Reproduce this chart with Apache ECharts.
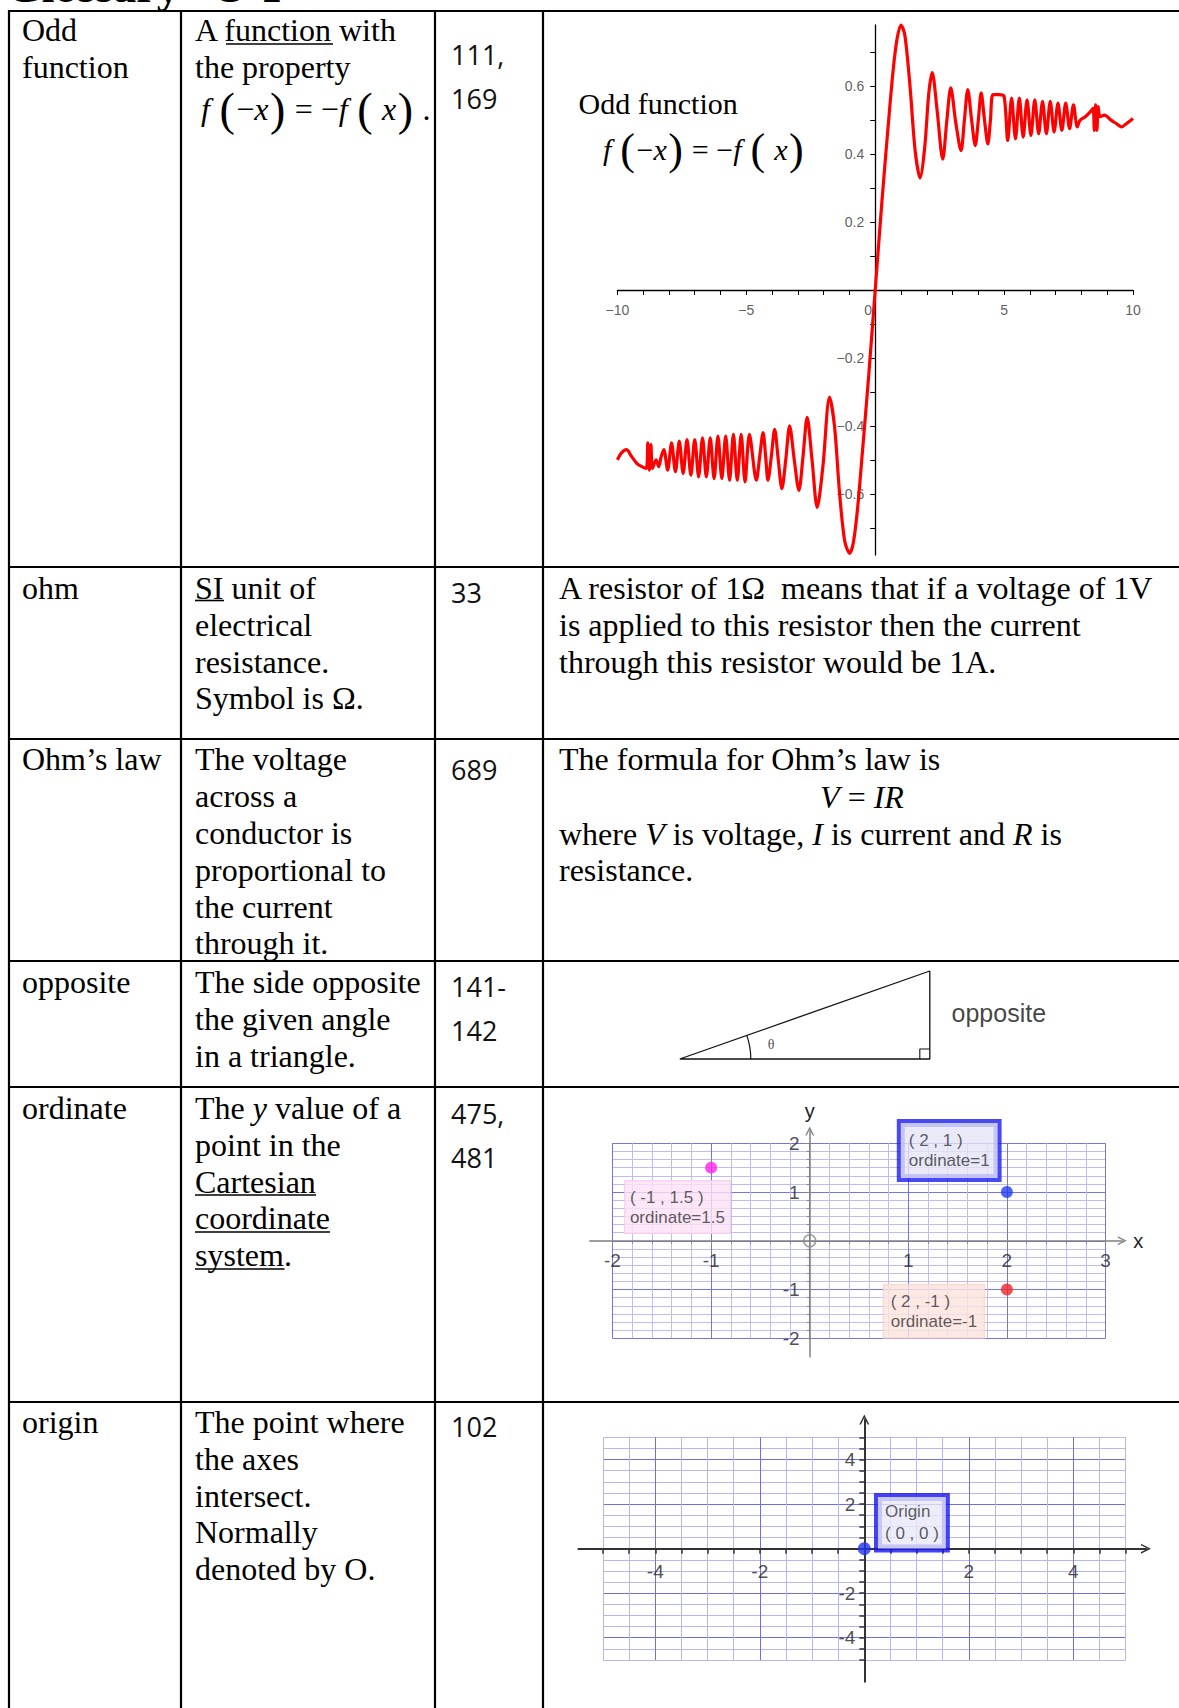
<!DOCTYPE html>
<html>
<head>
<meta charset="utf-8">
<script src="https://cdn.jsdelivr.net/npm/echarts@6/dist/echarts.min.js"></script>
<style>
  html, body { margin: 0; padding: 0; background: #fff; }
  #chart { width: 1179px; height: 1708px; }
</style>
</head>
<body>
<div id="chart"></div>
<script>
// ---- data ----

// odd function curve (x, f(x))
const oddCurve = [
  [-10, -0.5], [-9.85, -0.48], [-9.65, -0.47], [-9.45, -0.49], [-9.25, -0.51], [-9.05, -0.52],
  [-8.88, -0.525], [-8.82, -0.45], [-8.76, -0.53], [-8.7, -0.455], [-8.64, -0.525], [-8.5, -0.5],
  [-8.4, -0.52], [-8.3, -0.49], [-8.2, -0.47],
  [-8.05, -0.53], [-7.9, -0.45], [-7.75, -0.535], [-7.6, -0.445], [-7.45, -0.54], [-7.3, -0.44],
  [-7.15, -0.545], [-7.0, -0.44], [-6.85, -0.55], [-6.7, -0.435], [-6.55, -0.55], [-6.4, -0.435],
  [-6.25, -0.555], [-6.1, -0.43], [-5.95, -0.555], [-5.8, -0.43], [-5.65, -0.56], [-5.5, -0.425],
  [-5.35, -0.56], [-5.2, -0.425], [-5.05, -0.565], [-4.88, -0.425],
  [-4.61, -0.56], [-4.48, -0.49], [-4.35, -0.42], [-4.25, -0.49], [-4.16, -0.56], [-4.03, -0.49],
  [-3.9, -0.41], [-3.76, -0.5], [-3.62, -0.585], [-3.47, -0.5], [-3.32, -0.4], [-3.14, -0.5],
  [-2.96, -0.59], [-2.8, -0.49], [-2.64, -0.375], [-2.45, -0.5], [-2.25, -0.64], [-2.03, -0.52],
  [-1.77, -0.315], [-1.58, -0.4], [-1.38, -0.6], [-1.18, -0.74], [-0.99, -0.775], [-0.84, -0.74],
  [-0.68, -0.64], [-0.5, -0.48], [-0.25, -0.25],
  [0, 0],
  [0.25, 0.25], [0.5, 0.48], [0.7, 0.65], [0.85, 0.74], [1.0, 0.78], [1.15, 0.75], [1.35, 0.6],
  [1.55, 0.41], [1.74, 0.33], [1.92, 0.42], [2.08, 0.58], [2.21, 0.64], [2.4, 0.53], [2.62, 0.385],
  [2.78, 0.5], [2.93, 0.595], [3.13, 0.49], [3.33, 0.41], [3.46, 0.5], [3.59, 0.59], [3.74, 0.5],
  [3.88, 0.425], [4.0, 0.5], [4.11, 0.58], [4.24, 0.5], [4.37, 0.43], [4.47, 0.5], [4.57, 0.575],
  [4.8, 0.575], [5.0, 0.57], [5.14, 0.44],
  [5.29, 0.565], [5.44, 0.445], [5.59, 0.565], [5.74, 0.45], [5.89, 0.56], [6.04, 0.455],
  [6.19, 0.56], [6.34, 0.46], [6.49, 0.555], [6.64, 0.46], [6.79, 0.555], [6.94, 0.465],
  [7.09, 0.55], [7.24, 0.47], [7.39, 0.55], [7.54, 0.475], [7.69, 0.545], [7.84, 0.48],
  [7.95, 0.5], [8.15, 0.51], [8.35, 0.525], [8.45, 0.535], [8.5, 0.47], [8.55, 0.545],
  [8.6, 0.47], [8.65, 0.54], [8.72, 0.51], [8.9, 0.515], [9.15, 0.5], [9.35, 0.49],
  [9.55, 0.48], [9.75, 0.49], [10, 0.505]
];
const oddXLabels = [-10, -5, 0, 5, 10];
const oddYTicks = [-0.7, -0.6, -0.5, -0.4, -0.3, -0.2, -0.1, 0, 0.1, 0.2, 0.3, 0.4, 0.5, 0.6, 0.7];
const oddYLabels = [-0.6, -0.4, -0.2, 0.2, 0.4, 0.6];

// right triangle (base 10, height 3.52), right angle mark and angle arc [cx, cy, r, degrees]
const triangleOutline = [[0, 0], [10, 0], [10, 3.52], [0, 0]];
const rightAngleMark = [[9.6, 0], [9.6, 0.4], [10, 0.4]];
const angleArc = [0, 0, 2.84, 19.4];
const triangleTexts = ['θ', 'opposite'];
const triangleTextAt = [[3.65, 0.6], [10.87, 1.85]];

// ordinate example
const ordinatePoints = [[-1, 1.5], [2, 1], [2, -1]];
const ordinateLabels = ['( -1 , 1.5 )\nordinate=1.5', '( 2 , 1 )\nordinate=1', '( 2 , -1 )\nordinate=-1'];
const ordXLabels = [-2, -1, 1, 2, 3];
const ordYLabels = [-2, -1, 1, 2];

// origin example
const originPoints = [[0, 0]];
const originLabels = ['Origin\n( 0 , 0 )'];
const oriXLabels = [-4, -2, 2, 4];
const oriYLabels = [-4, -2, 2, 4];

// table text
const terms = ['Odd\nfunction', 'ohm', 'Ohm’s law', 'opposite', 'ordinate', 'origin'];
const definitions = [
  'A function with\nthe property',
  'SI unit of\nelectrical\nresistance.\nSymbol is Ω.',
  'The voltage\nacross a\nconductor is\nproportional to\nthe current\nthrough it.',
  'The side opposite\nthe given angle\nin a triangle.',
  'The {i|y} value of a\npoint in the\nCartesian\ncoordinate\nsystem.',
  'The point where\nthe axes\nintersect.\nNormally\ndenoted by O.'
];
const pages = ['111,\n169', '33', '689', '141-\n142', '475,\n481', '102'];

// ---- layout ----
const SERIF = '"Liberation Serif", "Times New Roman", serif';
const SANS = '"Liberation Sans", Arial, sans-serif';
const PAGEFONT = '"Open Sans", "DejaVu Sans", sans-serif';
const rowFirstLine = [30.5, 588, 759.5, 982, 1108, 1422];
const pageFirstLine = [54.5, 592, 769, 986, 1113.6, 1426];
const colX = [22, 195, 451, 559];
const LH = 36.8;

const rowLines = [11, 567, 739, 961, 1087, 1402];
const colLines = [9, 181, 435, 543];

function text(x, y, str, size, extra) {
  return {
    type: 'text', x, y, silent: true, z: 10,
    style: Object.assign({
      text: str, fontSize: size, fontFamily: SERIF, fill: '#000',
      align: 'left', verticalAlign: 'top', textAlign: 'left', textVerticalAlign: 'top',
      lineHeight: LH
    }, extra || {})
  };
}
function hline(x1, x2, y, w) {
  return { type: 'line', silent: true, z: 10, shape: { x1, y1: y, x2, y2: y }, style: { stroke: '#000', lineWidth: w || 2.2 } };
}
function vline(x, y1, y2, w) {
  return { type: 'line', silent: true, z: 10, shape: { x1: x, y1, x2: x, y2 }, style: { stroke: '#000', lineWidth: w || 2.2 } };
}

const italic = (size, lh) => ({ fontStyle: 'italic', fontSize: size, fontFamily: SERIF, lineHeight: lh, fill: '#000' });
const plain = (size, lh) => ({ fontSize: size, fontFamily: SERIF, lineHeight: lh, fill: '#000' });

function formulaRich(size, parenSize, lh) {
  return { i: italic(size, lh), r: plain(size, lh), p: Object.assign(plain(parenSize, lh), { padding: [0, 1.5] }) };
}
const formulaText = '{i|f}{r| }{p|(}{r|−}{i|x}{p|)}{r| = −}{i|f}{r| }{p|(}{r| }{i|x}{p|)}';

const graphics = [];
// clipped page title
graphics.push(text(6, -14, 'Glossary', 46, { fontWeight: 'bold', verticalAlign: 'middle', textVerticalAlign: 'middle' }));
graphics.push(text(212, -14, 'O-P', 46, { fontWeight: 'bold', verticalAlign: 'middle', textVerticalAlign: 'middle' }));
// table rules
rowLines.forEach(y => graphics.push(hline(colLines[0] - 1, 1179, y)));
colLines.forEach(x => graphics.push(vline(x, rowLines[0] - 1, 1708)));

terms.forEach((t, i) => graphics.push(text(colX[0], rowFirstLine[i] - LH / 2, t, 32)));
definitions.forEach((t, i) => graphics.push(text(colX[1], rowFirstLine[i] - LH / 2, t, 32, { rich: { i: italic(32, LH) } })));
pages.forEach((t, i) => graphics.push(text(colX[2], pageFirstLine[i] - 22, t, 27, { fontFamily: PAGEFONT, lineHeight: 44, fill: '#111' })));

// formula in definition column
graphics.push(text(201, 109 - 24, formulaText + '{r| .}', 32, { lineHeight: 48, rich: formulaRich(32, 46, 48) }));
// underlined words
[[226, 333, 44], [195, 224, 600.5], [195, 316, 1195], [195, 330, 1232], [195, 284.5, 1269]]
  .forEach(u => graphics.push(hline(u[0], u[1], u[2], 1.6)));

// explanation column
graphics.push(text(colX[3], 588 - LH / 2,
  'A resistor of 1Ω  means that if a voltage of 1V\nis applied to this resistor then the current\nthrough this resistor would be 1A.', 32));
graphics.push(text(colX[3], 759.5 - LH / 2, 'The formula for Ohm’s law is', 32));
graphics.push(text(862, 796.6 - LH / 2, '{i|V} = {i|IR}', 32, { align: 'center', textAlign: 'center', rich: { i: italic(32, LH) } }));
graphics.push(text(colX[3], 833.6 - LH / 2, 'where {i|V} is voltage, {i|I} is current and {i|R} is\nresistance.', 32, { rich: { i: italic(32, LH) } }));

// odd function plot caption
graphics.push(text(578.6, 103.5 - 20, 'Odd function', 30, { lineHeight: 40 }));
graphics.push(text(603, 149.5 - 24, formulaText, 30, { lineHeight: 48, rich: formulaRich(30, 44, 48) }));

// ---- grids ----
const gOdd = { left: 617.4, top: 25, width: 515.6, height: 530 };
const gTri = { left: 679.8, top: 971, width: 250, height: 88 };
const gOrdA = { left: 612.5, top: 1143.3, width: 493, height: 195 };
const gOriA = { left: 603, top: 1437.3, width: 522.6, height: 222.7 };

// extended grid for axis lines (same scale as the base grid)
function extend(g, xr, yr, xe, ye) {
  const sx = g.width / (xr[1] - xr[0]);
  const sy = g.height / (yr[1] - yr[0]);
  return {
    left: g.left - (xr[0] - xe[0]) * sx,
    top: g.top - (ye[1] - yr[1]) * sy,
    width: (xe[1] - xe[0]) * sx,
    height: (ye[1] - ye[0]) * sy
  };
}
const ordXR = [-2, 3], ordYR = [-2, 2], ordXE = [-2.23, 3.17], ordYE = [-2.38, 2.25];
const oriXR = [-5, 5], oriYR = [-5, 5], oriXE = [-5.47, 5.39], oriYE = [-5.98, 5.8];
const gOrdB = extend(gOrdA, ordXR, ordYR, ordXE, ordYE);
const gOriB = extend(gOriA, oriXR, oriYR, oriXE, oriYE);

const grids = [gOdd, gTri, gOrdA, gOrdB, gOriA, gOriB].map(g => Object.assign({ containLabel: false, outerBoundsMode: 'none' }, g));

const chevron = 'path://M0,10 L5,0 L10,10 L8.4,10 L5,3.2 L1.6,10 Z';
const minusFmt = v => String(v).replace('-', '−');
const hidden = { show: false };

const xAxes = [
  {
    gridIndex: 0, type: 'value', min: -10, max: 10, interval: 5,
    axisLine: { onZero: true, lineStyle: { color: '#000', width: 1.3 } },
    axisTick: { length: 5, lineStyle: { color: '#000', width: 1 } },
    minorTick: { show: true, splitNumber: 5, length: 5, lineStyle: { color: '#000', width: 1 } },
    splitLine: hidden, axisLabel: hidden
  },
  { gridIndex: 1, type: 'value', min: 0, max: 10, show: false },
  {
    gridIndex: 2, type: 'value', min: ordXR[0], max: ordXR[1], interval: 1,
    axisLine: { show: false, onZero: true },
    axisTick: { length: 4, lineStyle: { color: '#888' } },
    minorTick: { show: true, splitNumber: 5, length: 3, lineStyle: { color: '#888' } },
    splitLine: { show: true, lineStyle: { color: '#7474e6', width: 1 } },
    minorSplitLine: { show: true, lineStyle: { color: '#bdbdf4', width: 1 } },
    axisLabel: hidden
  },
  {
    gridIndex: 3, type: 'value', min: ordXE[0], max: ordXE[1],
    axisLine: { onZero: true, symbol: ['none', chevron], symbolSize: [11, 9], lineStyle: { color: '#808080', width: 1.5 } },
    axisTick: hidden, axisLabel: hidden, splitLine: hidden,
    name: 'x', nameLocation: 'end', nameGap: 11, nameTextStyle: { color: '#222', fontSize: 20, fontFamily: SANS }
  },
  {
    gridIndex: 4, type: 'value', min: oriXR[0], max: oriXR[1], interval: 1,
    axisLine: { show: false, onZero: true },
    axisTick: { length: 5, lineStyle: { color: '#333', width: 1.5 } },
    minorTick: { show: true, splitNumber: 2, length: 5, lineStyle: { color: '#333', width: 1.5 } },
    splitLine: { show: true, lineStyle: { color: ['#b6b6f2', '#6e6ee6'], width: 1 } },
    minorSplitLine: { show: true, lineStyle: { color: '#b6b6f2', width: 1 } },
    axisLabel: hidden
  },
  {
    gridIndex: 5, type: 'value', min: oriXE[0], max: oriXE[1],
    axisLine: { onZero: true, symbol: ['none', chevron], symbolSize: [13, 10], lineStyle: { color: '#333', width: 2 } },
    axisTick: hidden, axisLabel: hidden, splitLine: hidden
  }
];

const yAxes = [
  {
    gridIndex: 0, type: 'value', min: -0.78, max: 0.78,
    axisLine: { onZero: true, lineStyle: { color: '#000', width: 1.3 } },
    axisTick: { customValues: oddYTicks, length: 5, lineStyle: { color: '#000', width: 1 } },
    splitLine: hidden, axisLabel: hidden
  },
  { gridIndex: 1, type: 'value', min: 0, max: 3.52, show: false },
  {
    gridIndex: 2, type: 'value', min: ordYR[0], max: ordYR[1], interval: 1,
    axisLine: { show: false, onZero: true },
    axisTick: { length: 4, lineStyle: { color: '#888' } },
    minorTick: { show: true, splitNumber: 6, length: 3, lineStyle: { color: '#888' } },
    splitLine: { show: true, lineStyle: { color: '#7474e6', width: 1 } },
    minorSplitLine: { show: true, lineStyle: { color: '#bdbdf4', width: 1 } },
    axisLabel: hidden
  },
  {
    gridIndex: 3, type: 'value', min: ordYE[0], max: ordYE[1],
    axisLine: { onZero: true, symbol: ['none', chevron], symbolSize: [11, 9], lineStyle: { color: '#808080', width: 1.5 } },
    axisTick: hidden, axisLabel: hidden, splitLine: hidden,
    name: 'y', nameLocation: 'end', nameGap: 10, nameTextStyle: { color: '#222', fontSize: 20, fontFamily: SANS }
  },
  {
    gridIndex: 4, type: 'value', min: oriYR[0], max: oriYR[1], interval: 1,
    axisLine: { show: false, onZero: true },
    axisTick: { length: 5, lineStyle: { color: '#333', width: 1.5 } },
    minorTick: { show: true, splitNumber: 2, length: 5, lineStyle: { color: '#333', width: 1.5 } },
    splitLine: { show: true, lineStyle: { color: ['#b6b6f2', '#6e6ee6'], width: 1 } },
    minorSplitLine: { show: true, lineStyle: { color: '#b6b6f2', width: 1 } },
    axisLabel: hidden
  },
  {
    gridIndex: 5, type: 'value', min: oriYE[0], max: oriYE[1],
    axisLine: { onZero: true, symbol: ['none', chevron], symbolSize: [13, 10], lineStyle: { color: '#333', width: 2 } },
    axisTick: hidden, axisLabel: hidden, splitLine: hidden
  }
];

// tick labels placed on the zero lines through invisible points
function tickLabels(axisIdx, values, onX, offset, style, fmt) {
  return {
    type: 'scatter', xAxisIndex: axisIdx, yAxisIndex: axisIdx, clip: false, silent: true,
    symbolSize: 1, itemStyle: { color: 'transparent' }, z: 1,
    data: values.map(v => (onX ? [v, 0] : [0, v])),
    label: Object.assign({
      show: true, position: 'inside', offset,
      formatter: p => fmt(onX ? p.value[0] : p.value[1])
    }, style)
  };
}
const oddTickStyle = { color: '#333', fontSize: 14, fontFamily: SANS };
const gridTickStyle = { color: '#222', fontSize: 19, fontFamily: SANS };

// label boxes for the ordinate points (style only)
const ordinateBoxStyles = [
  { position: [-80.2, 19.3], padding: [7, 5, 6, 5], backgroundColor: '#fde1f5', borderColor: '#f0c8e6', borderWidth: 1 },
  { position: [-100.1, -63], padding: [8, 8, 8, 8], backgroundColor: '#e3e3f6', borderColor: '#1c1cf0', borderWidth: 4 },
  { position: [-117.2, 1.3], padding: [7, 7, 7, 7], backgroundColor: '#fde4dc', borderColor: '#f4d0c6', borderWidth: 1 }
];
const ordinateColors = ['#ff22e8', '#1f3cf2', '#f22424'];
const boxText = { color: '#333', fontSize: 17, fontFamily: SANS, lineHeight: 19.5, align: 'left', verticalAlign: 'top' };

const series = [
  {
    type: 'line', xAxisIndex: 0, yAxisIndex: 0, data: oddCurve,
    symbol: 'none', smooth: 0.3, clip: false, z: 3,
    lineStyle: { color: '#ff0000', width: 3.2 }
  },
  tickLabels(0, oddXLabels.filter(v => v !== 0), true, [0, 20], oddTickStyle, minusFmt),
  tickLabels(0, [0], true, [-7, 20], oddTickStyle, minusFmt),
  tickLabels(0, oddYLabels, false, [-11, 0], Object.assign({ align: 'right' }, oddTickStyle), minusFmt),
  {
    type: 'line', xAxisIndex: 1, yAxisIndex: 1, data: triangleOutline,
    symbol: 'none', clip: false, lineStyle: { color: '#111', width: 1.3 }
  },
  {
    type: 'line', xAxisIndex: 1, yAxisIndex: 1, data: rightAngleMark,
    symbol: 'none', clip: false, lineStyle: { color: '#111', width: 1.1 }
  },
  {
    type: 'custom', xAxisIndex: 1, yAxisIndex: 1, data: [angleArc], clip: false,
    encode: { x: 0, y: 1 },
    renderItem: (params, api) => {
      const c = api.coord([api.value(0), api.value(1)]);
      const r = api.size([api.value(2), 0])[0];
      return {
        type: 'arc',
        shape: { cx: c[0], cy: c[1], r, startAngle: -api.value(3) * Math.PI / 180, endAngle: 0, clockwise: true },
        style: { stroke: '#111', fill: 'none', lineWidth: 1.2 }
      };
    }
  },
  {
    type: 'scatter', xAxisIndex: 1, yAxisIndex: 1, clip: false, symbolSize: 1,
    itemStyle: { color: 'transparent' },
    data: triangleTextAt.map((p, i) => ({
      value: p,
      label: i === 0
        ? { show: true, position: 'inside', formatter: triangleTexts[i], color: '#222', fontSize: 14, fontFamily: SERIF }
        : { show: true, position: 'inside', align: 'left', formatter: triangleTexts[i], color: '#111', fontSize: 25, fontFamily: SANS }
    }))
  },
  tickLabels(2, ordXLabels, true, [0, 20], gridTickStyle, String),
  tickLabels(2, ordYLabels, false, [-10, 0], Object.assign({ align: 'right' }, gridTickStyle), String),
  {
    type: 'scatter', xAxisIndex: 2, yAxisIndex: 2, data: [[0, 0]], symbol: 'circle', symbolSize: 12,
    itemStyle: { color: 'transparent', borderColor: '#888', borderWidth: 1.5 }, z: 3
  },
  {
    type: 'scatter', xAxisIndex: 2, yAxisIndex: 2, symbolSize: 12, z: 4,
    data: ordinatePoints.map((p, i) => ({
      value: p,
      itemStyle: { color: ordinateColors[i] },
      label: Object.assign({ show: true, formatter: ordinateLabels[i] }, boxText, ordinateBoxStyles[i])
    }))
  },
  tickLabels(4, oriXLabels, true, [0, 23], gridTickStyle, String),
  tickLabels(4, oriYLabels, false, [-9, 0], Object.assign({ align: 'right' }, gridTickStyle), String),
  {
    type: 'scatter', xAxisIndex: 4, yAxisIndex: 4, symbolSize: 13, z: 4,
    data: originPoints.map((p, i) => ({
      value: p,
      itemStyle: { color: '#2233ee' },
      label: Object.assign({ show: true, formatter: originLabels[i] }, boxText, {
        lineHeight: 21.7, position: [20.2, -45.15], padding: [4, 7, 4, 7],
        backgroundColor: '#e8e8f7', borderColor: '#1414f0', borderWidth: 4
      })
    }))
  }
];

const chart = echarts.init(document.getElementById('chart'), null, { renderer: 'svg', width: 1179, height: 1708 });
chart.setOption({
  animation: false,
  backgroundColor: '#fff',
  grid: grids,
  xAxis: xAxes,
  yAxis: yAxes,
  series,
  graphic: { elements: graphics }
});
</script>
</body>
</html>
